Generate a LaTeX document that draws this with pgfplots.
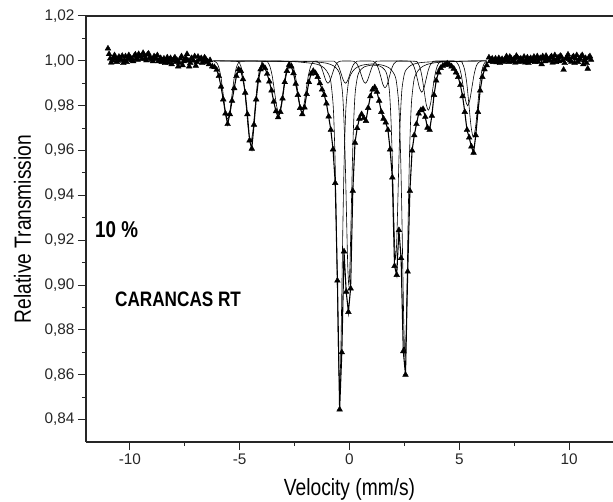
\documentclass[border=0pt]{standalone}
\usepackage{pgfplots}
\pgfplotsset{compat=1.18}
\usepackage{pgfplotstable}
\usepackage{fontspec}
\setmainfont{Liberation Sans}
\newfontfamily\narrow[FakeStretch=0.82]{Liberation Sans}

% measured spectrum, central part (with the fit drawn through it)
\pgfplotstableread[row sep=\\]{
v t\\
-6.25 0.9975\\ -6.15 0.9972\\ -6.05 0.9960\\ -5.95 0.9932\\ -5.85 0.9885\\
-5.75 0.9828\\ -5.65 0.9765\\ -5.55 0.9718\\ -5.45 0.9762\\ -5.35 0.9822\\
-5.25 0.9878\\ -5.15 0.9932\\ -5.05 0.9962\\ -4.95 0.9955\\ -4.85 0.9918\\
-4.75 0.9858\\ -4.65 0.9762\\ -4.55 0.9645\\ -4.45 0.9608\\ -4.35 0.9715\\
-4.25 0.9828\\ -4.15 0.9912\\ -4.05 0.9962\\ -3.95 0.9978\\ -3.85 0.9968\\
-3.75 0.9942\\ -3.65 0.9908\\ -3.55 0.9868\\ -3.45 0.9818\\ -3.35 0.9775\\
-3.25 0.9748\\ -3.15 0.9772\\ -3.05 0.9832\\ -2.95 0.9905\\ -2.85 0.9955\\
-2.75 0.9982\\ -2.65 0.9975\\ -2.55 0.9945\\ -2.45 0.9898\\ -2.35 0.9848\\
-2.25 0.9790\\ -2.15 0.9762\\ -2.05 0.9792\\ -1.95 0.9852\\ -1.85 0.9905\\
-1.75 0.9942\\ -1.65 0.9955\\ -1.55 0.9945\\ -1.45 0.9928\\ -1.35 0.9900\\
-1.25 0.9872\\ -1.15 0.9848\\ -1.05 0.9810\\ -0.95 0.9752\\ -0.85 0.9692\\
-0.75 0.9605\\ -0.65 0.9455\\ -0.55 0.9020\\ -0.45 0.8445\\ -0.35 0.8700\\
-0.25 0.9150\\ -0.15 0.8970\\ -0.05 0.8880\\ 0.05 0.8985\\ 0.15 0.9420\\
0.25 0.9635\\ 0.35 0.9700\\ 0.45 0.9742\\ 0.55 0.9762\\ 0.65 0.9745\\
0.75 0.9732\\ 0.85 0.9790\\ 0.95 0.9842\\ 1.05 0.9872\\ 1.15 0.9882\\
1.25 0.9862\\ 1.35 0.9822\\ 1.45 0.9772\\ 1.55 0.9742\\ 1.65 0.9725\\
1.75 0.9692\\ 1.85 0.9605\\ 1.95 0.9480\\ 2.05 0.9085\\ 2.15 0.9045\\
2.25 0.9245\\ 2.35 0.9120\\ 2.45 0.8705\\ 2.55 0.8600\\ 2.65 0.9060\\
2.75 0.9420\\ 2.85 0.9600\\ 2.95 0.9668\\ 3.05 0.9718\\ 3.15 0.9765\\
3.25 0.9780\\ 3.35 0.9785\\ 3.45 0.9750\\ 3.55 0.9702\\ 3.65 0.9692\\
3.75 0.9755\\ 3.85 0.9848\\ 3.95 0.9912\\ 4.05 0.9948\\ 4.15 0.9968\\
4.25 0.9978\\ 4.35 0.9982\\ 4.45 0.9988\\ 4.55 0.9982\\ 4.65 0.9975\\
4.75 0.9965\\ 4.85 0.9948\\ 4.95 0.9928\\ 5.05 0.9892\\ 5.15 0.9842\\
5.25 0.9772\\ 5.35 0.9692\\ 5.45 0.9658\\ 5.55 0.9618\\ 5.65 0.9590\\
5.75 0.9668\\ 5.85 0.9772\\ 5.95 0.9868\\ 6.05 0.9928\\ 6.15 0.9962\\
6.25 0.9980\\
}\cen

% baseline data, left
\pgfplotstableread[row sep=\\]{
v t\\
-11.00 1.0055\\ -10.95 1.0030\\ -10.90 1.0010\\ -10.85 0.9992\\ -10.80 1.0002\\
-10.75 1.0015\\ -10.70 1.0025\\ -10.65 1.0008\\ -10.60 0.9995\\ -10.55 1.0000\\
-10.50 1.0018\\ -10.45 1.0012\\ -10.40 1.0005\\ -10.35 1.0022\\ -10.30 0.9990\\
-10.25 1.0003\\ -10.20 1.0020\\ -10.15 0.9995\\ -10.10 1.0008\\ -10.05 1.0025\\
-10.00 1.0015\\ -9.95 1.0010\\ -9.90 1.0003\\ -9.85 0.9998\\ -9.80 1.0022\\
-9.75 1.0028\\ -9.70 1.0012\\ -9.65 1.0005\\ -9.60 1.0030\\ -9.55 1.0020\\
-9.50 1.0018\\ -9.45 1.0008\\ -9.40 1.0035\\ -9.35 1.0025\\ -9.30 1.0010\\
-9.25 1.0002\\ -9.20 1.0028\\ -9.15 1.0032\\ -9.10 1.0015\\ -9.05 1.0010\\
-9.00 1.0005\\ -8.95 0.9998\\ -8.90 1.0020\\ -8.85 1.0015\\ -8.80 1.0008\\
-8.75 1.0025\\ -8.70 0.9998\\ -8.65 1.0005\\ -8.60 1.0012\\ -8.55 0.9995\\
-8.50 1.0002\\ -8.45 1.0010\\ -8.40 0.9990\\ -8.35 1.0002\\ -8.30 1.0015\\
-8.25 0.9992\\ -8.20 1.0005\\ -8.15 1.0012\\ -8.10 0.9985\\ -8.05 1.0000\\
-8.00 1.0008\\ -7.95 1.0015\\ -7.90 0.9995\\ -7.85 1.0002\\ -7.80 0.9975\\
-7.75 0.9990\\ -7.70 1.0010\\ -7.65 1.0020\\ -7.60 0.9980\\ -7.55 0.9998\\
-7.50 1.0005\\ -7.45 1.0012\\ -7.40 1.0030\\ -7.35 1.0000\\ -7.30 0.9975\\
-7.25 0.9990\\ -7.20 1.0012\\ -7.15 1.0008\\ -7.10 1.0000\\ -7.05 1.0020\\
-7.00 0.9978\\ -6.95 0.9995\\ -6.90 1.0018\\ -6.85 1.0005\\ -6.80 1.0008\\
-6.75 1.0012\\ -6.70 0.9990\\ -6.65 0.9998\\ -6.60 1.0015\\ -6.55 1.0008\\
-6.50 1.0000\\ -6.45 0.9995\\ -6.40 0.9985\\ -6.35 1.0003\\
}\leftb

% baseline data, right
\pgfplotstableread[row sep=\\]{
v t\\
6.35 1.0015\\ 6.40 0.9998\\ 6.45 1.0005\\ 6.50 1.0010\\ 6.55 0.9995\\
6.60 1.0002\\ 6.65 1.0010\\ 6.70 0.9994\\ 6.75 1.0000\\ 6.80 1.0012\\
6.85 0.9990\\ 6.90 1.0003\\ 6.95 1.0008\\ 7.00 0.9996\\ 7.05 1.0002\\
7.10 1.0010\\ 7.15 1.0020\\ 7.20 1.0004\\ 7.25 0.9995\\ 7.30 1.0018\\
7.35 1.0012\\ 7.40 0.9998\\ 7.45 1.0004\\ 7.50 1.0010\\ 7.55 0.9992\\
7.60 1.0022\\ 7.65 1.0015\\ 7.70 0.9995\\ 7.75 1.0006\\ 7.80 1.0010\\
7.85 0.9998\\ 7.90 1.0003\\ 7.95 1.0018\\ 8.00 0.9993\\ 8.05 1.0002\\
8.10 1.0015\\ 8.15 0.9990\\ 8.20 1.0006\\ 8.25 1.0012\\ 8.30 0.9998\\
8.35 1.0005\\ 8.40 1.0018\\ 8.45 0.9995\\ 8.50 1.0008\\ 8.55 1.0020\\
8.60 0.9996\\ 8.65 1.0008\\ 8.70 1.0012\\ 8.75 0.9985\\ 8.80 1.0020\\
8.85 1.0010\\ 8.90 0.9998\\ 8.95 1.0022\\ 9.00 1.0012\\ 9.05 1.0000\\
9.10 1.0004\\ 9.15 1.0015\\ 9.20 1.0020\\ 9.25 0.9992\\ 9.30 1.0006\\
9.35 1.0025\\ 9.40 0.9995\\ 9.45 1.0008\\ 9.50 1.0015\\ 9.55 0.9998\\
9.60 1.0022\\ 9.65 1.0018\\ 9.70 1.0002\\ 9.75 0.9960\\ 9.80 0.9990\\
9.85 1.0010\\ 9.90 1.0015\\ 9.95 1.0028\\ 10.00 1.0008\\ 10.05 1.0002\\
10.10 0.9996\\ 10.15 1.0015\\ 10.20 1.0020\\ 10.25 0.9990\\ 10.30 1.0010\\
10.35 1.0025\\ 10.40 0.9995\\ 10.45 1.0005\\ 10.50 1.0010\\ 10.55 1.0020\\
10.60 1.0025\\ 10.65 0.9985\\ 10.70 1.0002\\ 10.75 1.0012\\ 10.80 0.9990\\
10.85 0.9965\\ 10.90 1.0015\\ 10.95 1.0020\\ 11.00 1.0005\\
}\rightb

% sub-spectrum: olivine doublet
\pgfplotstableread[row sep=\\]{
v t\\
-6.20 1.0000\\ -3.00 0.9998\\ -2.00 0.9992\\ -1.45 0.9984\\ -1.15 0.9968\\
-0.95 0.9940\\ -0.85 0.9906\\ -0.75 0.9810\\ -0.70 0.9703\\ -0.65 0.9527\\
-0.60 0.9275\\ -0.55 0.8965\\ -0.50 0.8676\\ -0.45 0.8550\\ -0.40 0.8676\\
-0.35 0.8965\\ -0.30 0.9275\\ -0.25 0.9527\\ -0.20 0.9703\\ -0.15 0.9810\\
-0.05 0.9904\\ 0.05 0.9938\\ 0.25 0.9965\\ 0.55 0.9980\\ 1.05 0.9986\\
1.53 0.9980\\ 1.83 0.9967\\ 2.03 0.9942\\ 2.13 0.9911\\ 2.23 0.9824\\
2.28 0.9726\\ 2.33 0.9570\\ 2.38 0.9340\\ 2.43 0.9058\\ 2.48 0.8795\\
2.53 0.8680\\ 2.58 0.8795\\ 2.63 0.9058\\ 2.68 0.9340\\ 2.73 0.9570\\
2.78 0.9726\\ 2.83 0.9824\\ 2.93 0.9911\\ 3.03 0.9942\\ 3.23 0.9968\\
3.53 0.9984\\ 4.03 0.9993\\ 5.00 0.9998\\ 6.25 1.0000\\
}\Ocomp

% sub-spectrum: pyroxene doublet
\pgfplotstableread[row sep=\\]{
v t\\
-6.20 1.0000\\ -3.00 0.9999\\ -2.00 0.9997\\ -1.50 0.9995\\ -1.03 0.9989\\
-0.73 0.9978\\ -0.53 0.9959\\ -0.43 0.9935\\ -0.33 0.9869\\ -0.28 0.9795\\
-0.23 0.9674\\ -0.18 0.9500\\ -0.13 0.9286\\ -0.08 0.9087\\ -0.03 0.9000\\
0.02 0.9087\\ 0.07 0.9286\\ 0.12 0.9500\\ 0.17 0.9674\\ 0.22 0.9795\\
0.27 0.9869\\ 0.37 0.9932\\ 0.47 0.9955\\ 0.67 0.9973\\ 1.04 0.9981\\
1.40 0.9976\\ 1.60 0.9960\\ 1.70 0.9940\\ 1.80 0.9882\\ 1.85 0.9817\\
1.90 0.9710\\ 1.95 0.9557\\ 2.00 0.9369\\ 2.05 0.9194\\ 2.10 0.9117\\
2.15 0.9194\\ 2.20 0.9369\\ 2.25 0.9557\\ 2.30 0.9710\\ 2.35 0.9817\\
2.40 0.9884\\ 2.50 0.9942\\ 2.60 0.9963\\ 2.80 0.9980\\ 3.10 0.9990\\
3.60 0.9995\\ 4.60 0.9998\\ 6.25 1.0000\\
}\Pcomp

% sub-spectrum: kamacite sextet
\pgfplotstableread[row sep=\\]{
v t\\
-6.20 1.0000\\ -6.05 0.9992\\ -5.95 0.9971\\ -5.85 0.9924\\ -5.75 0.9850\\
-5.65 0.9773\\ -5.55 0.9740\\ -5.45 0.9773\\ -5.35 0.9850\\ -5.25 0.9924\\
-5.15 0.9971\\ -5.05 0.9992\\ -4.95 0.9998\\ -3.82 0.9998\\ -3.72 0.9993\\
-3.62 0.9974\\ -3.52 0.9933\\ -3.42 0.9867\\ -3.32 0.9799\\ -3.22 0.9770\\
-3.12 0.9799\\ -3.02 0.9867\\ -2.92 0.9933\\ -2.82 0.9974\\ -2.72 0.9993\\
-2.62 0.9998\\ -1.58 0.9999\\ -1.48 0.9997\\ -1.38 0.9989\\ -1.28 0.9971\\
-1.18 0.9942\\ -1.08 0.9913\\ -0.98 0.9900\\ -0.88 0.9913\\ -0.78 0.9942\\
-0.68 0.9971\\ -0.58 0.9989\\ -0.48 0.9997\\ -0.38 0.9999\\ 0.12 0.9999\\
0.22 0.9997\\ 0.32 0.9989\\ 0.42 0.9971\\ 0.52 0.9942\\ 0.62 0.9913\\
0.72 0.9900\\ 0.82 0.9913\\ 0.92 0.9942\\ 1.02 0.9971\\ 1.12 0.9989\\
1.22 0.9997\\ 1.32 0.9999\\ 2.69 0.9999\\ 2.79 0.9995\\ 2.89 0.9984\\
2.99 0.9959\\ 3.09 0.9919\\ 3.19 0.9878\\ 3.29 0.9860\\ 3.39 0.9878\\
3.49 0.9919\\ 3.59 0.9959\\ 3.69 0.9984\\ 3.79 0.9995\\ 3.89 0.9999\\
4.78 0.9999\\ 4.88 0.9993\\ 4.98 0.9978\\ 5.08 0.9942\\ 5.18 0.9884\\
5.28 0.9826\\ 5.38 0.9800\\ 5.48 0.9826\\ 5.58 0.9884\\ 5.68 0.9942\\
5.78 0.9978\\ 5.88 0.9993\\ 5.98 0.9999\\ 6.25 1.0000\\
}\Kcomp

% sub-spectrum: troilite sextet
\pgfplotstableread[row sep=\\]{
v t\\
-6.20 1.0000\\ -5.10 0.9997\\ -5.00 0.9988\\ -4.90 0.9960\\ -4.80 0.9895\\
-4.70 0.9792\\ -4.60 0.9686\\ -4.50 0.9640\\ -4.40 0.9686\\ -4.30 0.9792\\
-4.20 0.9895\\ -4.10 0.9960\\ -4.00 0.9988\\ -3.90 0.9997\\ -2.77 0.9998\\
-2.67 0.9993\\ -2.57 0.9975\\ -2.47 0.9936\\ -2.37 0.9873\\ -2.27 0.9808\\
-2.17 0.9780\\ -2.07 0.9808\\ -1.97 0.9873\\ -1.87 0.9936\\ -1.77 0.9975\\
-1.67 0.9993\\ -1.57 0.9998\\ -0.78 0.9999\\ -0.68 0.9997\\ -0.58 0.9989\\
-0.48 0.9971\\ -0.38 0.9942\\ -0.28 0.9913\\ -0.18 0.9900\\ -0.08 0.9913\\
0.02 0.9942\\ 0.12 0.9971\\ 0.22 0.9989\\ 0.32 0.9997\\ 0.42 0.9999\\
1.02 0.9999\\ 1.12 0.9996\\ 1.22 0.9987\\ 1.32 0.9965\\ 1.42 0.9931\\
1.52 0.9895\\ 1.62 0.9880\\ 1.72 0.9895\\ 1.82 0.9931\\ 1.92 0.9965\\
2.02 0.9987\\ 2.12 0.9996\\ 2.22 0.9999\\ 2.99 0.9998\\ 3.09 0.9993\\
3.19 0.9975\\ 3.29 0.9936\\ 3.39 0.9873\\ 3.49 0.9808\\ 3.59 0.9780\\
3.69 0.9808\\ 3.79 0.9873\\ 3.89 0.9936\\ 3.99 0.9975\\ 4.09 0.9993\\
4.19 0.9998\\ 5.04 0.9997\\ 5.14 0.9989\\ 5.24 0.9962\\ 5.34 0.9901\\
5.44 0.9803\\ 5.54 0.9704\\ 5.64 0.9660\\ 5.74 0.9704\\ 5.84 0.9803\\
5.94 0.9901\\ 6.04 0.9962\\ 6.14 0.9989\\ 6.25 0.9999\\
}\Tcomp

\begin{document}
\begin{tikzpicture}
\path[use as bounding box] (-86bp,-60bp) rectangle (527bp,442bp);
\begin{axis}[
  at={(0,0)}, anchor=south west,
  width=527bp, height=426bp, scale only axis,
  xmin=-12, xmax=12, ymin=0.83, ymax=1.02,
  axis x line*=bottom, axis y line*=left,
  xtick={-10,-5,0,5,10}, xticklabels={-10,-5,0,5,10},
  ytick={0.84,0.86,0.88,0.90,0.92,0.94,0.96,0.98,1.00,1.02},
  yticklabels={{0,84},{0,86},{0,88},{0,90},{0,92},{0,94},{0,96},{0,98},{1,00},{1,02}},
  minor x tick num=1, minor y tick num=1,
  tick align=outside,
  major tick length=8bp, minor tick length=4bp,
  every tick/.style={black!85, line width=1pt},
  axis line style={black!85, line width=1.1pt},
  ticklabel style={font=\fontsize{15.4}{18}\selectfont, text=black!85},
  clip=false,
]
\addplot[black, line width=0.6pt, smooth] table {\Ocomp};
\addplot[black, line width=0.6pt, smooth] table {\Pcomp};
\addplot[black, line width=0.6pt, smooth] table {\Kcomp};
\addplot[black, line width=0.6pt, smooth] table {\Tcomp};
\addplot[black, line width=1.1pt] table {\cen};
\addplot[only marks, mark=triangle*, mark size=3.3bp, black] table {\cen};
\addplot[only marks, mark=triangle*, mark size=3.3bp, black] table {\leftb};
\addplot[only marks, mark=triangle*, mark size=3.3bp, black] table {\rightb};
\draw[black!85, line width=1.1pt] (rel axis cs:0,1) -- (rel axis cs:1,1);
\node[anchor=base west, font=\narrow\bfseries\fontsize{23}{27}\selectfont, inner sep=0pt]
  at (axis cs:-11.59,0.921) {10 \%};
\node[anchor=base west, font=\narrow\bfseries\fontsize{21}{25}\selectfont, inner sep=0pt]
  at (axis cs:-10.68,0.8904) {CARANCAS RT};
\end{axis}
\node[anchor=base, font=\narrow\fontsize{23.5}{28}\selectfont, inner sep=0pt]
  at (263.5bp,-53bp) {Velocity (mm/s)};
\node[anchor=base, rotate=90, font=\narrow\fontsize{23.5}{28}\selectfont, inner sep=0pt]
  at (-55bp,213bp) {Relative Transmission};
\end{tikzpicture}
\end{document}
